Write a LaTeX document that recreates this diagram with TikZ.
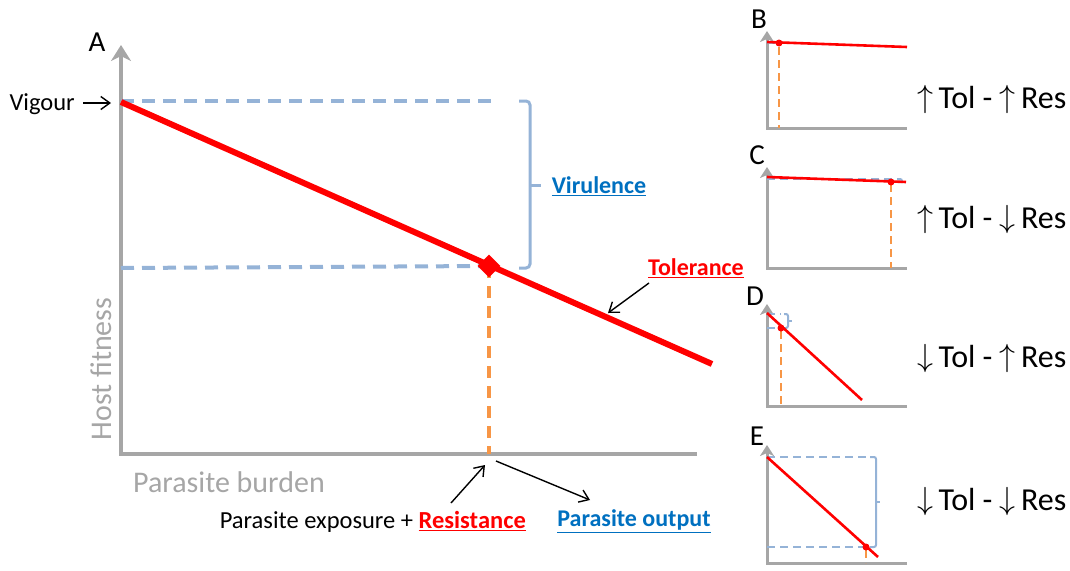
\documentclass[tikz,border=0pt]{standalone}
\usepackage{fix-cm}
\usepackage{fontspec}
\setmainfont{Carlito}
\usetikzlibrary{arrows.meta}
\definecolor{axisgrey}{HTML}{A6A6A6}
\definecolor{fitred}{HTML}{FF0000}
\definecolor{dashblue}{HTML}{95B3D7}
\definecolor{dashorange}{HTML}{F79646}
\definecolor{txtblue}{HTML}{0070C0}
\definecolor{brblue}{HTML}{95B3D7}
\newcommand{\upar}{\raisebox{0.05em}{$\uparrow$}}
\newcommand{\dnar}{\raisebox{0.05em}{$\downarrow$}}
\begin{document}
\begin{tikzpicture}[x=1pt,y=-1pt,
  bigaxis/.style={draw=axisgrey,line width=4.5pt,line join=miter,-{Stealth[length=16pt,width=20pt,inset=5pt]}},
  smallaxis/.style={draw=axisgrey,line width=3pt,line join=miter,-{Stealth[length=11pt,width=14pt,inset=3pt]}},
  fitline/.style={draw=fitred,line width=6pt},
  thinfit/.style={draw=fitred,line width=2.6pt},
  dashb/.style={draw=dashblue,line width=4pt,dash pattern=on 13pt off 8pt},
  thindashb/.style={draw=dashblue,line width=2.5pt,dash pattern=on 8pt off 5pt},
  dasho/.style={draw=dashorange,line width=3.5pt,dash pattern=on 12pt off 8pt},
  thindasho/.style={draw=dashorange,line width=2.5pt,dash pattern=on 8pt off 5pt},
  bracketline/.style={draw=brblue,line width=3pt,rounded corners=4pt},
  thinbracket/.style={draw=brblue,line width=2pt,rounded corners=2pt},
  pointer/.style={draw=black,line width=1.4pt,-{Straight Barb[length=9pt,width=13pt]}},
  lab/.style={font=\fontsize{24.5}{28}\selectfont,inner sep=0pt},
  boldlab/.style={font=\fontsize{24}{28}\selectfont\bfseries,inner sep=0pt},
  axlab/.style={font=\fontsize{30}{34}\selectfont,text=axisgrey,inner sep=0pt},
  panlab/.style={font=\fontsize{29}{33}\selectfont,inner sep=0pt},
  tollab/.style={font=\fontsize{32}{36}\selectfont,inner sep=0pt,anchor=west},
  reddot/.style={fill=fitred,circle,inner sep=0pt,minimum size=7pt}]
\useasboundingbox (0,0) rectangle (1070,570);

% ---------------- Panel A ----------------
\coordinate (Aorig) at (121,454);
\coordinate (Atop) at (121,45);
\coordinate (Axend) at (697,454);
\draw[bigaxis] (Axend) -- (Aorig) -- (Atop);
\node[panlab] (Alab) at (97,42) {A};
\node[axlab,rotate=90] (hostfit) at (101,369) {Host fitness};
\node[axlab] (parbur) at (229,482) {Parasite burden};

\coordinate (vig) at (121,102);
\coordinate (Aend) at (712,364);
\coordinate (Apt) at (489,266);
\coordinate (Atopdash) at (492,101);
\coordinate (Aleftmid) at (121,268);
\coordinate (Axpt) at (489,454);

\draw[dashb] (121,101) -- (Atopdash);
\draw[dashb] (Aleftmid) -- (Apt);
\draw[dasho] (Apt) -- (Axpt);
\draw[fitline] (vig) -- (Aend);
\node[fill=fitred,rotate=45,minimum size=16pt,inner sep=0pt] (diam) at (Apt) {};

% bracket
\draw[bracketline] (519,101) -- (530,101) -- (530,268) -- (519,268);
\draw[bracketline] (530,185) -- (541,185);
\node[boldlab,text=txtblue] (vir) at (599,186) {\underline{Virulence}};
\node[boldlab,text=fitred] (tol) at (696,268) {\underline{Tolerance}};
\coordinate (tolarr) at (608,313);
\draw[pointer] (649,283) -- (tolarr);

\node[lab,anchor=east] (vigtxt) at (75,104) {Vigour};
\draw[pointer] (83,103) -- (111,103);

\node[lab,anchor=east] (expo) at (526,522) {Parasite exposure + {\bfseries\color{fitred}\underline{Resistance}}};
\node[boldlab,text=txtblue] (pout) at (634,521) {\underline{Parasite output}};
\draw[pointer] (451,503) -- (485,465);
\draw[pointer] (496,461) -- (590,500);

% ---------------- Panel B ----------------
\draw[smallaxis] (907,128) -- (767,128) -- (767,31);
\node[panlab] (Blab) at (759,19) {B};
\draw[thindashb] (767,43) -- (789,43);
\draw[thindasho] (779,47) -- (779,128);
\draw[thinfit] (767,42) -- (907,47);
\node[reddot] (Bpt) at (779,43) {};
\node[tollab] (Btxt) at (917,99) {\upar\,Tol - \upar\,Res};

% ---------------- Panel C ----------------
\draw[smallaxis] (907,268) -- (767,268) -- (767,167);
\node[panlab] (Clab) at (757,155) {C};
\draw[thindashb] (767,179) -- (897,179);
\draw[thinbracket] (897,179) -- (902,179) -- (902,183);
\draw[thindasho] (891,184) -- (891,268);
\draw[thinfit] (767,177) -- (906,182);
\node[reddot] (Cpt) at (891,182) {};
\node[tollab] (Ctxt) at (917,219) {\upar\,Tol - \dnar\,Res};

% ---------------- Panel D ----------------
\draw[smallaxis] (907,406) -- (767,406) -- (767,304);
\node[panlab] (Dlab) at (755,296) {D};
\draw[thindashb] (767,314) -- (781,314);
\draw[thindashb] (767,328) -- (781,328);
\draw[thinbracket] (784,314) -- (788,314) -- (788,328) -- (784,328);
\draw[thinbracket] (788,321) -- (792,321);
\draw[thindasho] (781,331) -- (781,406);
\draw[thinfit] (767,313) -- (862,400);
\node[reddot] (Dpt) at (781,328) {};
\node[tollab] (Dtxt) at (917,358) {\dnar\,Tol - \upar\,Res};

% ---------------- Panel E ----------------
\draw[smallaxis] (907,563) -- (767,563) -- (767,445);
\node[panlab] (Elab) at (757,436) {E};
\draw[thindashb] (767,457) -- (872,457);
\draw[thindashb] (767,547) -- (866,547);
\draw[thinbracket] (870,457) -- (876,457) -- (876,547) -- (870,547);
\draw[thinbracket] (876,502) -- (880,502);
\draw[thindasho] (866,550) -- (866,563);
\draw[thinfit] (767,457) -- (878,557);
\node[reddot] (Ept) at (866,547) {};
\node[tollab] (Etxt) at (917,501) {\dnar\,Tol - \dnar\,Res};
\end{tikzpicture}
\end{document}
